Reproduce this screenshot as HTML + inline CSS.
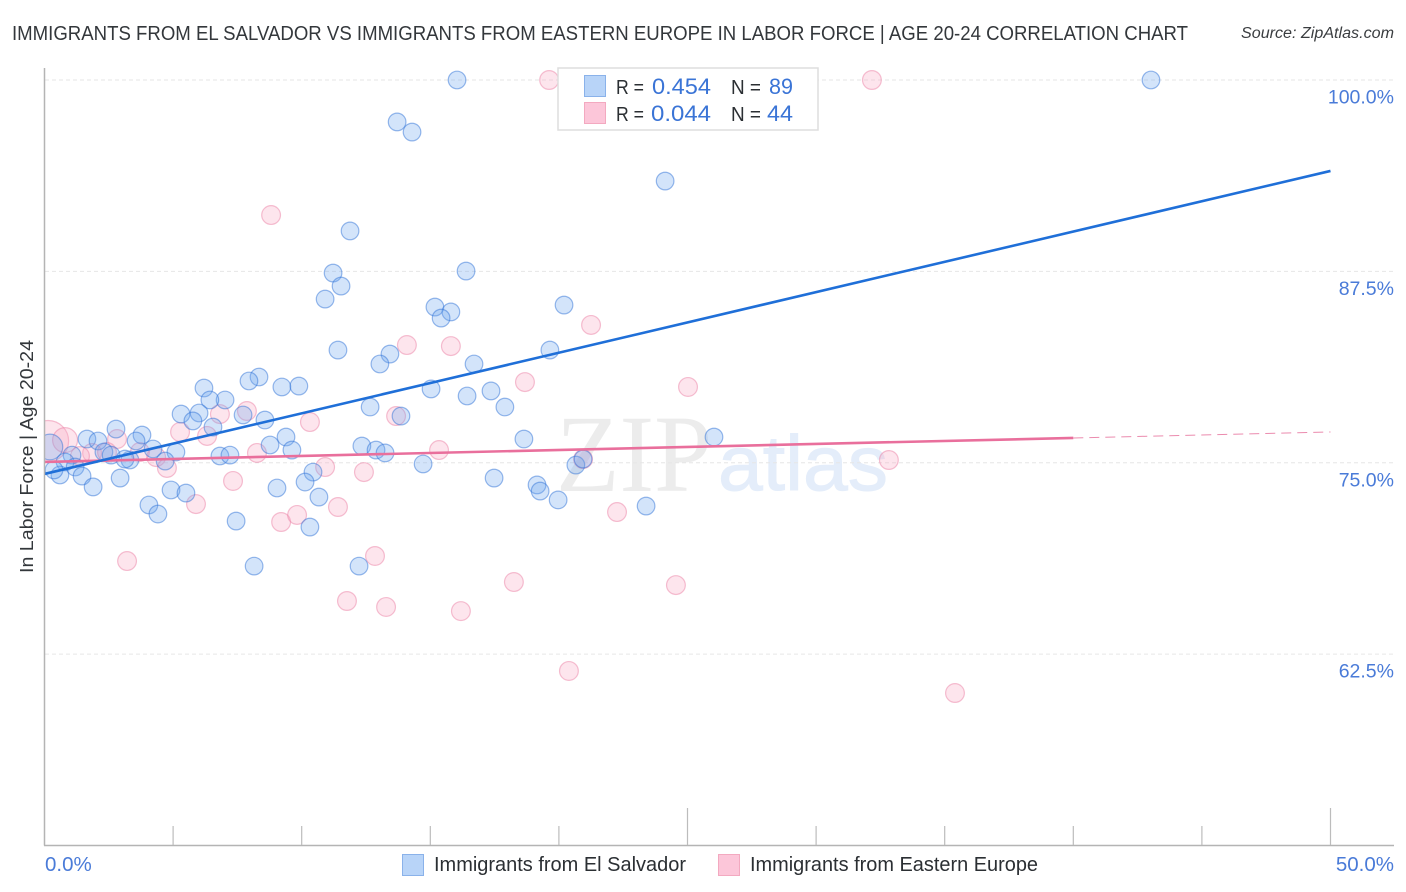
<!DOCTYPE html>
<html lang="en">
<head>
<meta charset="utf-8">
<title>Immigrants from El Salvador vs Immigrants from Eastern Europe in Labor Force | Age 20-24</title>
<style>
html,body{margin:0;padding:0;background:#fff;}
svg{display:block;font-family:"Liberation Sans",sans-serif;}
</style>
</head>
<body>
<svg id="chart" xmlns="http://www.w3.org/2000/svg" width="1406" height="892" viewBox="0 0 1406 892">
  <defs>
    <clipPath id="plot-clip"><rect x="44" y="60" width="1350" height="785"/></clipPath>
  </defs>
  <rect x="0" y="0" width="1406" height="892" fill="#ffffff"/>
  <text x="12" y="40" font-size="20" fill="#33373b" textLength="1176" lengthAdjust="spacingAndGlyphs">IMMIGRANTS FROM EL SALVADOR VS IMMIGRANTS FROM EASTERN EUROPE IN LABOR FORCE | AGE 20-24 CORRELATION CHART</text>
  <text x="1241" y="38" font-size="15.5" font-style="italic" fill="#3a3d40" textLength="153" lengthAdjust="spacingAndGlyphs">Source: ZipAtlas.com</text>

  <g>
    <text x="556" y="491" font-family="'Liberation Serif',serif" font-size="110" fill="#ececec" textLength="156" lengthAdjust="spacingAndGlyphs">ZIP</text>
    <text x="718" y="490" font-size="78" fill="#e4edfa" stroke="#e4edfa" stroke-width="1" textLength="170" lengthAdjust="spacingAndGlyphs">atlas</text>
  </g>

  <g id="grid"></g>
  <g id="points" clip-path="url(#plot-clip)"></g>
  <g id="trends"></g>
  <g id="axes"></g>

  <text transform="translate(33,573) rotate(-90)" font-size="18.5" fill="#33373b" textLength="233" lengthAdjust="spacingAndGlyphs">In Labor Force | Age 20-24</text>

  <g>
    <rect x="558" y="68" width="260" height="62" fill="#ffffff" stroke="#dedede" stroke-width="1.5"/>
    <rect x="584.5" y="75.5" width="21" height="21" fill="#b8d4f8" stroke="#8ab2ea" stroke-width="1"/>
    <rect x="584.5" y="102.5" width="21" height="21" fill="#fcc6d9" stroke="#f3a9c0" stroke-width="1"/>
    <text x="616" y="94" font-size="20" fill="#2b2f33" textLength="28" lengthAdjust="spacingAndGlyphs">R =</text>
    <text x="652" y="94" font-size="22" fill="#3a74d6" textLength="59" lengthAdjust="spacingAndGlyphs">0.454</text>
    <text x="731" y="94" font-size="20" fill="#2b2f33" textLength="30" lengthAdjust="spacingAndGlyphs">N =</text>
    <text x="769" y="94" font-size="22" fill="#3a74d6" textLength="24" lengthAdjust="spacingAndGlyphs">89</text>
    <text x="616" y="121" font-size="20" fill="#2b2f33" textLength="28" lengthAdjust="spacingAndGlyphs">R =</text>
    <text x="651" y="121" font-size="22" fill="#3a74d6" textLength="60" lengthAdjust="spacingAndGlyphs">0.044</text>
    <text x="731" y="121" font-size="20" fill="#2b2f33" textLength="30" lengthAdjust="spacingAndGlyphs">N =</text>
    <text x="767" y="121" font-size="22" fill="#3a74d6" textLength="26" lengthAdjust="spacingAndGlyphs">44</text>
  </g>

  <g>
    <rect x="402.5" y="854.5" width="21" height="21" fill="#b8d4f8" stroke="#8ab2ea" stroke-width="1"/>
    <text x="434" y="871" font-size="20" fill="#2b2f33" textLength="252" lengthAdjust="spacingAndGlyphs">Immigrants from El Salvador</text>
    <rect x="718.5" y="854.5" width="21" height="21" fill="#fcc6d9" stroke="#f3a9c0" stroke-width="1"/>
    <text x="750" y="871" font-size="20" fill="#2b2f33" textLength="288" lengthAdjust="spacingAndGlyphs">Immigrants from Eastern Europe</text>
  </g>
</svg>
<script>
const yTicks = [100, 87.5, 75, 62.5];
const yTickLabels = ["100.0%", "87.5%", "75.0%", "62.5%"];
const xTicks = [0, 5, 10, 15, 20, 25, 30, 35, 40, 45, 50];
const xMajorTicks = [25, 50];
const xEndTicks = [0, 50];
const xEndLabels = ["0.0%", "50.0%"];

const blueX = [0.21,16.04,43.02,13.71,14.29,24.13,11.88,11.22,16.39,11.53,10.91,15.18,15.80,15.42,20.20,11.41,19.65,13.43,13.04,16.70,8.34,7.95,6.20,9.23,9.89,15.03,17.36,16.43,7.02,6.43,17.90,12.66,5.31,6.01,7.72,8.57,5.77,13.86,6.55,2.78,3.79,1.65,2.08,3.56,18.64,26.03,9.39,8.77,4.22,9.62,12.34,12.89,13.24,5.11,2.31,2.59,6.82,7.21,1.07,3.32,3.13,4.69,0.80,1.19,14.72,20.66,20.94,10.44,1.46,2.94,0.60,0.37,1.89,17.48,19.15,19.27,4.92,5.50,9.04,10.13,10.67,4.06,19.97,23.39,4.41,7.45,10.32,8.15,12.23];
const blueY = [76.03,100,100,97.26,96.60,93.40,90.14,87.39,87.52,86.54,85.69,85.17,84.85,84.45,85.30,82.36,82.36,82.10,81.45,81.45,80.60,80.34,79.88,79.95,80.01,79.82,79.69,79.36,79.10,79.10,78.64,78.64,78.18,78.25,78.12,77.79,77.73,78.05,77.33,77.20,76.81,76.55,76.42,76.42,76.55,76.68,76.68,76.16,75.90,75.83,76.09,75.83,75.64,75.70,75.70,75.50,75.44,75.50,75.50,75.18,75.24,75.11,75.05,74.72,74.92,74.85,75.24,74.39,74.13,74.00,74.20,74.53,73.42,74.00,73.55,73.15,73.22,73.02,73.35,73.74,72.76,72.24,72.57,72.17,71.65,71.19,70.80,68.25,68.25];
const blueWeights = [2.1];

const pinkX = [0.14,0.80,19.62,32.17,8.81,21.25,14.09,15.80,18.68,25.02,7.87,6.82,13.67,10.32,5.27,6.32,2.82,15.34,8.26,4.34,4.76,10.91,12.42,7.33,5.89,11.41,9.20,9.82,22.26,12.85,3.21,18.25,24.55,11.76,13.28,16.19,20.39,35.40,32.83,20.94,1.85,2.43,1.38,3.71];
const pinkY = [76.42,76.48,100,100,91.18,84.00,82.69,82.62,80.27,79.95,78.38,78.18,78.05,77.66,77.01,76.75,76.55,75.83,75.64,75.37,74.66,74.72,74.39,73.81,72.30,72.11,71.13,71.59,71.78,68.91,68.58,67.21,67.01,65.97,65.58,65.31,61.40,59.96,75.18,75.24,75.64,75.70,75.44,75.70];
const pinkWeights = [5, 1.8];

const blueTrendX = [0, 50];
const blueTrendY = [74.27, 94.06];
const pinkTrendSolidX = [0, 40];
const pinkTrendSolidY = [75.05, 76.62];
const pinkTrendDashX = [40, 50];
const pinkTrendDashY = [76.62, 77.01];

const NS = 'http://www.w3.org/2000/svg';
const xScale = function (v) { return 44.5 + v * 25.72; };
const yScale = function (v) { return 80 + (100 - v) * 15.31; };
const radius = function (w) { return 9 * Math.sqrt(w); };

function make(tag, parent, attrs) {
  const el = document.createElementNS(NS, tag);
  Object.keys(attrs).forEach(function (k) { el.setAttribute(k, attrs[k]); });
  parent.appendChild(el);
  return el;
}

const grid = document.getElementById('grid');
const axes = document.getElementById('axes');
const points = document.getElementById('points');
const trends = document.getElementById('trends');

yTicks.forEach(function (v, i) {
  const line = make('line', grid, { x1: 45, x2: 1394, y1: yScale(v), y2: yScale(v), stroke: '#e6e6e6', 'stroke-width': 1, 'stroke-dasharray': '4 3' });
  
  
  const label = make('text', axes, { x: 1394, y: yScale(v) + 23.5, 'text-anchor': 'end', 'font-size': 19.5, fill: '#4a7bd8' });
  label.textContent = yTickLabels[i];
  
  
});

const leftAxis = make('line', axes, { x1: 44.5, x2: 44.5, y1: 68, y2: 845.5, stroke: '#b4b4b4', 'stroke-width': 1.5 });


const bottomAxis = make('line', axes, { x1: 44, x2: 1394, y1: 845.5, y2: 845.5, stroke: '#b4b4b4', 'stroke-width': 1.5 });



xTicks.forEach(function (v) {
  if (v === 0) return;
  const top = xMajorTicks.indexOf(v) >= 0 ? 808 : 826;
  const tick = make('line', axes, { x1: xScale(v), x2: xScale(v), y1: top, y2: 845, stroke: '#bcbcbc', 'stroke-width': 1.2 });
  
  
});

xEndTicks.forEach(function (v, i) {
  const label = make('text', axes, { x: i === 0 ? xScale(v) + 0.5 : 1394, y: 871, 'text-anchor': i === 0 ? 'start' : 'end', 'font-size': 20.5, fill: '#4a7bd8' });
  label.textContent = xEndLabels[i];
  
  
});

pinkX.forEach(function (v, i) {
  const w = i < pinkWeights.length ? pinkWeights[i] : 1;
  const dot = make('circle', points, { cx: xScale(v), cy: yScale(pinkY[i]), r: radius(w) + 0.4, fill: 'rgba(250,170,195,0.3)', stroke: 'rgba(236,130,165,0.5)', 'stroke-width': 1.2 });
  
  
});

blueX.forEach(function (v, i) {
  const w = i < blueWeights.length ? blueWeights[i] : 1;
  const dot = make('circle', points, { cx: xScale(v), cy: yScale(blueY[i]), r: radius(w) - 0.2, fill: 'rgba(110,165,240,0.3)', stroke: 'rgba(50,115,215,0.5)', 'stroke-width': 1.2 });
  
  
});

const pinkSolid = make('line', trends, { x1: xScale(pinkTrendSolidX[0]), x2: xScale(pinkTrendSolidX[1]), y1: yScale(pinkTrendSolidY[0]), y2: yScale(pinkTrendSolidY[1]), stroke: '#e96f9c', 'stroke-width': 2.6 });


const pinkDash = make('line', trends, { x1: xScale(pinkTrendDashX[0]), x2: xScale(pinkTrendDashX[1]), y1: yScale(pinkTrendDashY[0]), y2: yScale(pinkTrendDashY[1]), stroke: '#eb8bae', 'stroke-width': 1, 'stroke-dasharray': '10 6' });


const blueLine = make('line', trends, { x1: xScale(blueTrendX[0]), x2: xScale(blueTrendX[1]), y1: yScale(blueTrendY[0]), y2: yScale(blueTrendY[1]), stroke: '#1f6fd8', 'stroke-width': 2.6 });


</script>
</body>
</html>
